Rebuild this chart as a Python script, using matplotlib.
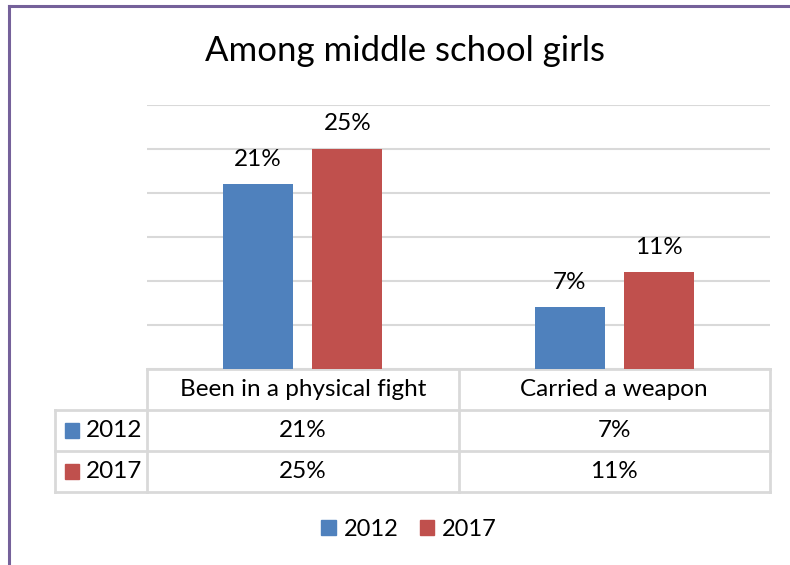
import matplotlib.pyplot as plt
from matplotlib.patches import Rectangle
import matplotlib.transforms as mtransforms
import numpy as np

categories = ['Been in a physical fight', 'Carried a weapon']
years = ['2012', '2017']
vals_2012 = [21, 7]
vals_2017 = [25, 11]
colors = ['#4F81BD', '#C0504D']
grid_c = '#d9d9d9'

plt.rcParams['font.family'] = ['Lato', 'DejaVu Sans']

W, H = 790, 565
fig = plt.figure(figsize=(7.9, 5.65), dpi=100)

# outer chart border (only top and left visible)
fig.add_artist(plt.Line2D([9 / W, 9 / W], [0, 1 - 6 / H], color='#75619A', lw=2.2))
fig.add_artist(plt.Line2D([9 / W, 1], [1 - 6 / H, 1 - 6 / H], color='#75619A', lw=2.2))

ax = fig.add_axes([147 / W, 1 - 369 / H, 623 / W, 264 / H])
x = np.arange(len(categories))
bw = 0.225
off = 0.143
series = [vals_2012, vals_2017]
for i, (vals, c) in enumerate(zip(series, colors)):
    pos = x + (i - 0.5) * 2 * off
    ax.bar(pos, vals, width=bw, color=c, zorder=3)
    for p, v in zip(pos, vals):
        ax.text(p, v + 2.85, f'{v}%', ha='center', va='center', fontsize=17.5)

ax.set_xlim(-0.5, 1.5)
ax.set_ylim(0, 30)
ax.set_yticks(np.arange(0, 31, 5))
ax.yaxis.grid(True, color=grid_c, lw=1.5, zorder=0)
ax.tick_params(left=False, bottom=False, labelleft=False, labelbottom=False)
for s in ax.spines.values():
    s.set_visible(False)

# data table below the plot
tr = mtransforms.blended_transform_factory(ax.transData, ax.transAxes)
rh = 41 / 264
left = -0.5 - 92 / 311.5
kw = dict(color=grid_c, lw=2, transform=tr, clip_on=False)
# horizontal lines
ax.plot([-0.5, 1.5], [0, 0], **kw)
for k in (1, 2, 3):
    ax.plot([left, 1.5], [-k * rh, -k * rh], **kw)
# vertical lines
ax.plot([left, left], [-rh, -3 * rh], **kw)
for xv in (-0.5, 0.5, 1.5):
    ax.plot([xv, xv], [0, -3 * rh], **kw)

for j, cat in enumerate(categories):
    ax.text(j, -0.5 * rh, cat, ha='center', va='center', fontsize=17.5,
            transform=tr)
    for r, vals in enumerate(series):
        ax.text(j, -(r + 1.5) * rh, f'{vals[j]}%', ha='center', va='center',
                fontsize=17.5, transform=tr)

for r, (yr, c) in enumerate(zip(years, colors)):
    yc = -(r + 1.5) * rh
    ax.add_patch(Rectangle((left + 0.033, yc - 0.028), 0.045, 0.056,
                           color=c, transform=tr, clip_on=False))
    ax.text(left + 0.1, yc, yr, ha='left', va='center', fontsize=17.5,
            transform=tr)

fig.text(0.513, 1 - 51 / H, 'Among middle school girls', ha='center',
         va='center', fontsize=25)

handles = [Rectangle((0, 0), 1, 1, color=c) for c in colors]
fig.legend(handles, years, loc='center', bbox_to_anchor=(0.518, 1 - 529 / H),
           ncol=2, frameon=False, fontsize=17, handlelength=0.6,
           handleheight=0.6, handletextpad=0.35, columnspacing=0.9)

fig.savefig('out.png', dpi=100)
